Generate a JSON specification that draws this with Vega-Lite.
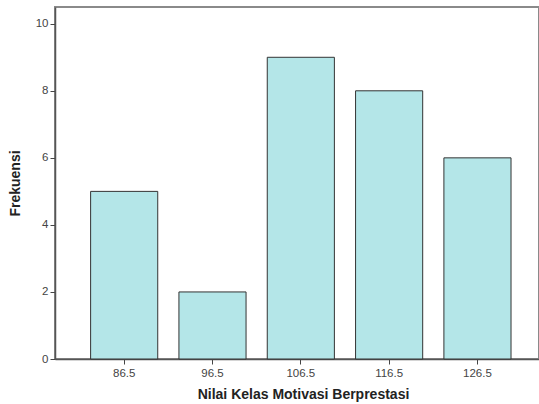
{
  "$schema": "https://vega.github.io/schema/vega-lite/v6.json",
  "width": 484,
  "height": 352,
  "autosize": {"type": "none"},
  "padding": {"left": 55, "top": 7, "right": 0, "bottom": 45},
  "background": "white",
  "config": {
    "view": {"stroke": "#8a8a8a", "strokeWidth": 2},
    "font": "Liberation Sans"
  },
  "data": {
    "values": [
      {"nilai": "86.5", "frekuensi": 5},
      {"nilai": "96.5", "frekuensi": 2},
      {"nilai": "106.5", "frekuensi": 9},
      {"nilai": "116.5", "frekuensi": 8},
      {"nilai": "126.5", "frekuensi": 6}
    ]
  },
  "mark": {"type": "bar", "fill": "#b4e6e8", "stroke": "#333333", "strokeWidth": 1},
  "encoding": {
    "x": {
      "field": "nilai",
      "type": "ordinal",
      "sort": null,
      "scale": {"paddingInner": 0.24, "paddingOuter": 0.36, "align": 0.56},
      "axis": {
        "title": "Nilai Kelas Motivasi Berprestasi",
        "titleFont": "Liberation Sans",
        "titleFontSize": 14,
        "titleFontWeight": "bold",
        "titleColor": "#222222",
        "titlePadding": 9,
        "titleX": 248,
        "labelAngle": 0,
        "labelFontSize": 11.5,
        "labelColor": "#444444",
        "labelPadding": 3,
        "tickColor": "#444444",
        "tickSize": 5,
        "domainColor": "#555555",
        "domainWidth": 1.5
      }
    },
    "y": {
      "field": "frekuensi",
      "type": "quantitative",
      "scale": {"domain": [0, 10.5], "nice": false},
      "axis": {
        "title": "Frekuensi",
        "values": [0, 2, 4, 6, 8, 10],
        "grid": false,
        "titleFont": "Liberation Sans",
        "titleFontSize": 14,
        "titleFontWeight": "bold",
        "titleColor": "#222222",
        "titlePadding": 13,
        "labelFontSize": 11.5,
        "labelColor": "#444444",
        "labelPadding": 2,
        "tickColor": "#444444",
        "tickSize": 5,
        "domainColor": "#555555",
        "domainWidth": 1.5
      }
    }
  }
}
